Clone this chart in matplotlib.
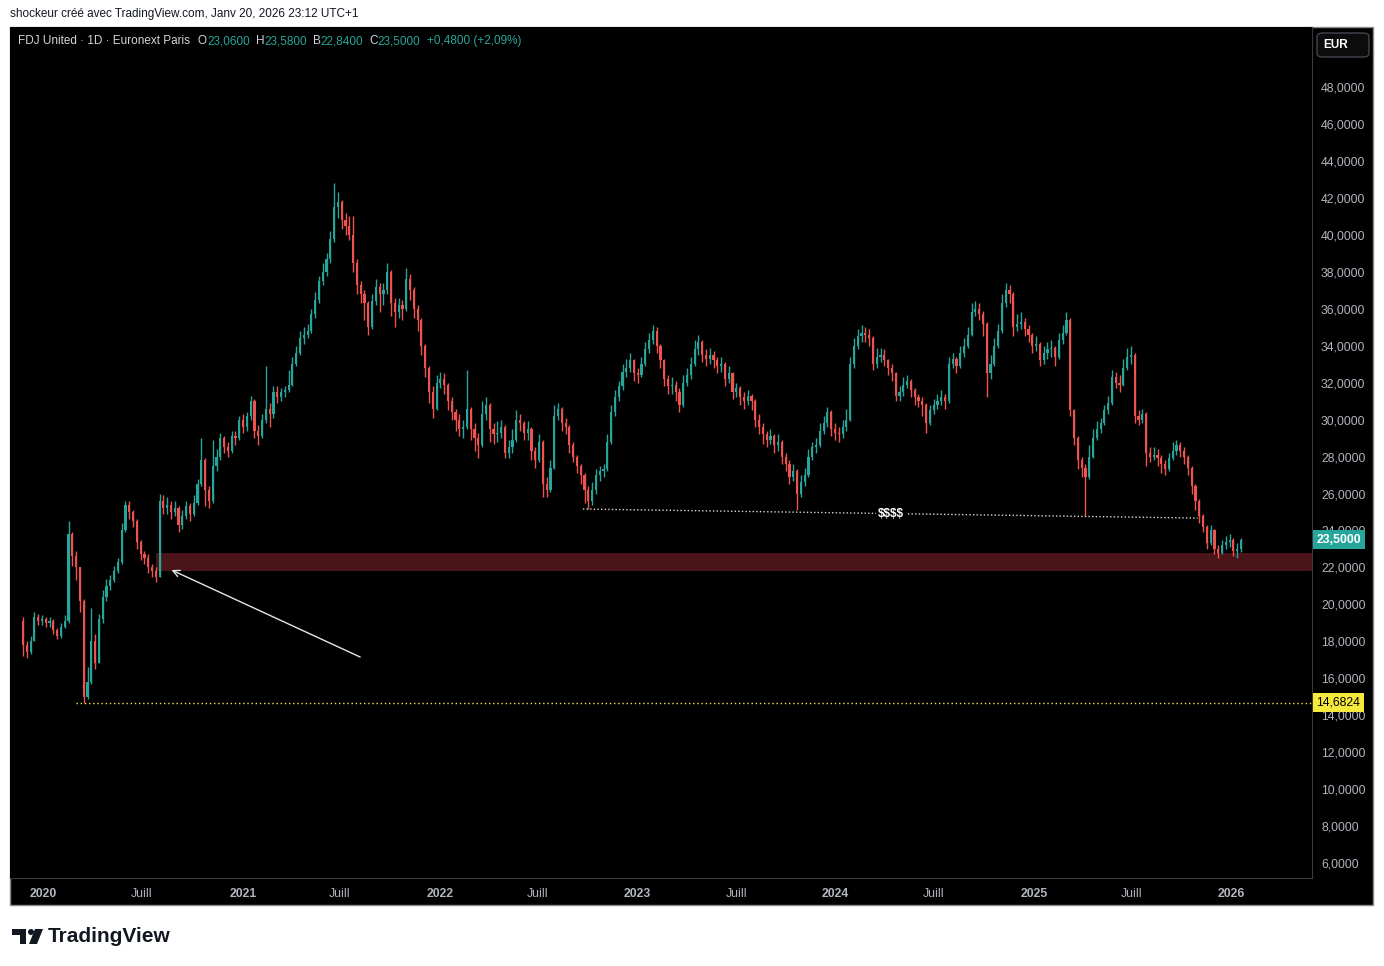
import numpy as np
import pandas as pd
import matplotlib
matplotlib.use('Agg')
import matplotlib.pyplot as plt
import matplotlib.dates as mdates
from matplotlib.patches import Rectangle, FancyBboxPatch, Polygon, Circle
from matplotlib.ticker import FixedLocator, FuncFormatter

plt.rcParams['font.family'] = ['Liberation Sans', 'DejaVu Sans']

W, H = 1384, 966
UP, DOWN = '#26a69a', '#ef5350'
TXT = '#d1d4dc'

# weekly candles (FDJ United, Euronext Paris)
first_week = '2019-11-25'
first_open = 19.1
closes = [
    17.8, 17.4, 18.0, 19.3, 19.1, 19.2, 19.0, 19.1, 18.6, 18.3,
    18.8, 19.1, 23.8, 22.6, 22.0, 20.2, 15.0, 15.8, 18.0, 16.8,
    19.2, 20.4, 21.0, 21.3, 21.8, 22.3, 24.0, 25.4, 25.0, 24.5,
    23.4, 22.7, 22.5, 22.0, 21.8, 21.5, 25.6, 25.2, 25.4, 25.0,
    25.2, 24.3, 24.8, 25.3, 24.9, 25.5, 26.5, 27.8, 26.2, 25.6,
    27.5, 28.0, 29.0, 28.5, 28.3, 29.1, 29.0, 30.0, 29.6, 30.2,
    31.0, 29.4, 29.1, 30.0, 30.6, 30.3, 31.5, 31.2, 31.5, 31.6,
    31.9, 33.0, 33.6, 34.4, 34.6, 34.8, 35.7, 36.5, 37.5, 38.0,
    38.7, 39.8, 41.5, 41.8, 40.8, 40.5, 40.0, 38.5, 37.3, 36.8,
    36.3, 35.0, 36.4, 37.2, 36.8, 37.0, 38.0, 36.3, 35.8, 36.2,
    36.0, 37.6, 37.0, 36.0, 35.4, 34.0, 32.8, 31.5, 30.6, 32.0,
    32.2, 31.9, 31.0, 30.4, 30.0, 29.5, 29.6, 30.6, 29.5, 29.0,
    28.6, 30.3, 30.8, 29.5, 29.2, 29.3, 29.6, 28.2, 28.5, 28.9,
    30.0, 29.8, 29.3, 29.5, 28.3, 27.8, 28.8, 26.5, 26.2, 27.4,
    30.2, 30.6, 29.8, 29.6, 28.6, 28.0, 27.5, 27.0, 26.2, 25.6,
    26.2, 27.0, 27.2, 27.3, 28.8, 30.4, 31.2, 31.8, 32.6, 32.8,
    33.2, 32.5, 32.4, 33.0, 33.8, 34.3, 34.8, 34.0, 33.2, 32.2,
    31.8, 31.9, 31.5, 30.8, 32.0, 32.4, 33.0, 33.8, 34.2, 33.5,
    33.3, 33.5, 33.2, 32.9, 33.0, 32.2, 32.5, 31.5, 31.7, 31.2,
    31.0, 31.3, 31.0, 30.0, 29.6, 29.2, 28.9, 29.1, 28.6, 28.8,
    28.0, 27.6, 26.9, 27.2, 26.0, 26.6, 27.0, 28.0, 28.5, 28.6,
    29.4, 29.8, 30.4, 29.5, 29.3, 29.2, 29.6, 30.0, 33.0, 34.0,
    34.5, 34.7, 34.6, 34.4, 33.0, 33.4, 33.5, 33.2, 32.8, 32.5,
    31.3, 31.5, 31.9, 32.1, 31.6, 31.2, 31.0, 30.8, 29.8, 30.5,
    30.8, 31.0, 31.2, 31.0, 33.0, 33.3, 32.9, 33.6, 34.0, 34.6,
    35.8, 36.0, 35.7, 35.2, 32.5, 33.0, 34.0, 34.8, 36.3, 37.0,
    36.8, 35.0, 35.2, 35.3, 34.9, 34.6, 34.0, 34.1, 33.2, 33.6,
    33.8, 33.9, 33.4, 34.3, 34.7, 35.4, 30.5, 29.0, 27.8, 27.4,
    26.9, 28.0, 29.0, 29.5, 29.8, 30.5, 30.9, 32.3, 32.0, 31.9,
    32.8, 33.4, 33.5, 30.2, 30.0, 30.3, 28.2, 28.0, 28.1, 27.9,
    27.6, 27.3, 27.9, 28.3, 28.6, 28.3, 28.0, 27.4, 26.4, 25.6,
    24.8, 24.2, 23.3, 24.0, 23.0, 22.8, 23.2, 23.4, 23.5, 22.9,
    23.0, 23.5,
]
highs = [
    19.3, 18.0, 18.3, 19.6, 19.5, 19.4, 19.3, 19.3, 19.2, 18.7,
    19.0, 19.4, 24.5, 23.9, 22.9, 22.0, 20.3, 16.6, 19.8, 18.4,
    19.5, 20.8, 21.4, 21.6, 22.1, 22.5, 24.4, 25.6, 25.6, 25.1,
    24.6, 23.5, 22.9, 22.7, 22.2, 22.0, 26.0, 25.9, 25.8, 25.6,
    25.6, 25.3, 25.1, 25.6, 25.5, 25.9, 26.8, 29.0, 27.9, 26.4,
    28.9, 28.4, 29.3, 29.1, 28.8, 29.4, 29.4, 30.2, 30.3, 30.4,
    31.3, 31.1, 29.7, 30.3, 32.9, 30.9, 31.8, 31.8, 31.7, 31.8,
    32.7, 33.4, 34.0, 34.8, 35.0, 35.2, 36.0, 36.9, 37.8, 38.5,
    39.0, 40.2, 42.8, 42.3, 41.9, 41.2, 41.0, 41.0, 38.7, 37.5,
    37.0, 36.4, 36.8, 37.6, 37.4, 37.4, 38.5, 38.1, 36.6, 36.6,
    36.5, 38.2, 37.9, 37.2, 36.2, 35.5, 34.1, 32.9, 31.8, 32.4,
    32.6, 32.5, 32.0, 31.2, 30.6, 30.3, 30.0, 32.7, 30.7, 29.8,
    29.3, 31.0, 31.2, 30.9, 29.8, 29.9, 30.0, 29.7, 28.9, 29.5,
    30.5, 30.3, 29.9, 29.9, 29.6, 28.5, 29.2, 28.9, 26.9, 27.8,
    30.8, 30.9, 30.7, 30.1, 29.7, 28.8, 28.1, 27.6, 27.1, 26.4,
    26.6, 27.3, 27.5, 27.6, 29.2, 30.8, 31.6, 32.1, 33.0, 33.3,
    33.6, 33.3, 32.8, 33.4, 34.2, 34.7, 35.1, 35.0, 34.1, 33.3,
    32.4, 32.3, 32.1, 31.7, 32.4, 32.8, 33.4, 34.3, 34.6, 34.3,
    33.8, 33.9, 33.7, 33.4, 33.4, 33.1, 32.9, 32.6, 32.0, 31.8,
    31.5, 31.6, 31.4, 31.1, 30.3, 29.8, 29.4, 29.5, 29.2, 29.2,
    28.9, 28.2, 27.8, 27.6, 27.3, 27.0, 27.4, 28.4, 28.8, 29.0,
    29.8, 30.2, 30.7, 30.5, 29.8, 29.6, 30.0, 30.6, 33.4, 34.4,
    34.9, 35.1, 35.0, 34.9, 34.5, 33.9, 33.9, 33.8, 33.3, 33.0,
    32.6, 31.8, 32.3, 32.4, 32.2, 31.7, 31.4, 31.2, 30.9, 30.8,
    31.1, 31.4, 31.6, 31.4, 33.4, 33.6, 33.4, 34.0, 34.4, 35.0,
    36.3, 36.4, 36.3, 35.9, 35.3, 33.5, 34.4, 35.2, 36.8, 37.4,
    37.3, 36.9, 35.7, 35.8, 35.5, 35.1, 34.7, 34.5, 34.2, 34.0,
    34.2, 34.3, 34.0, 34.7, 35.1, 35.8, 35.5, 30.6, 29.1, 28.0,
    27.6, 28.6, 29.5, 29.9, 30.1, 30.8, 31.3, 32.7, 32.6, 32.4,
    33.3, 33.9, 34.0, 33.6, 30.5, 30.6, 30.4, 28.5, 28.5, 28.4,
    28.1, 27.8, 28.2, 28.8, 28.9, 28.8, 28.5, 28.1, 27.5, 26.5,
    25.7, 24.9, 24.3, 24.3, 24.1, 23.2, 23.5, 23.7, 23.8, 23.6,
    23.3, 23.58,
]
lows = [
    17.2, 17.1, 17.3, 18.0, 18.9, 18.9, 18.8, 18.8, 18.4, 18.1,
    18.2, 18.7, 19.0, 22.1, 21.3, 19.6, 14.68, 14.9, 15.7, 16.5,
    16.8, 19.0, 20.2, 20.8, 21.2, 21.7, 22.2, 23.9, 24.6, 24.2,
    23.0, 22.4, 22.2, 21.7, 21.5, 21.2, 21.5, 24.9, 24.9, 24.6,
    24.8, 23.9, 24.1, 24.6, 24.5, 24.8, 25.4, 26.4, 25.3, 25.2,
    25.5, 27.2, 27.8, 28.2, 28.0, 28.2, 28.6, 28.9, 29.3, 29.4,
    30.0, 29.0, 28.6, 29.0, 29.8, 29.6, 30.1, 30.9, 31.0, 31.2,
    31.5, 31.8, 32.9, 33.5, 34.1, 34.4, 34.7, 35.5, 36.3, 37.3,
    37.8, 38.5, 39.6, 40.9, 40.3, 40.0, 39.7, 38.0, 36.8, 36.3,
    35.4, 34.6, 34.9, 36.2, 35.8, 36.2, 36.8, 35.6, 35.0, 35.5,
    35.4, 35.9, 36.5, 35.5, 34.8, 33.5, 32.3, 30.9, 30.1, 30.5,
    31.7, 31.4, 30.5, 30.0, 29.4, 29.1, 29.0, 29.5, 28.9, 28.3,
    27.9, 28.5, 30.0, 28.8, 28.7, 28.8, 29.0, 27.9, 27.9, 28.2,
    28.8, 29.4, 28.9, 28.9, 27.8, 27.4, 27.7, 25.8, 25.8, 26.1,
    27.3, 30.0, 29.4, 29.2, 28.2, 27.7, 27.1, 26.5, 25.5, 25.16,
    25.4, 26.0, 26.7, 26.9, 27.2, 28.7, 30.2, 31.0, 31.6, 32.3,
    32.6, 32.1, 32.0, 32.3, 32.9, 33.6, 34.1, 33.6, 32.8, 31.8,
    31.4, 31.4, 31.0, 30.4, 30.7, 31.8, 32.2, 32.9, 33.5, 33.1,
    32.9, 33.0, 32.8, 32.5, 32.6, 31.8, 32.0, 31.1, 31.2, 30.8,
    30.6, 30.8, 30.5, 29.6, 29.2, 28.7, 28.5, 28.7, 28.2, 28.3,
    27.6, 27.2, 26.5, 26.7, 25.1, 25.8, 26.4, 26.9, 27.8, 28.2,
    28.5, 29.2, 29.6, 29.1, 28.9, 28.8, 29.0, 29.4, 29.9, 32.8,
    33.8, 34.2, 34.2, 34.0, 32.7, 32.8, 33.1, 32.9, 32.4, 32.1,
    31.0, 31.0, 31.3, 31.7, 31.2, 30.8, 30.7, 30.2, 29.3, 29.7,
    30.3, 30.6, 30.8, 30.6, 30.9, 32.8, 32.5, 32.8, 33.4, 33.9,
    34.5, 35.6, 35.4, 34.5, 31.2, 32.2, 32.9, 33.9, 34.7, 36.1,
    36.3, 34.5, 34.8, 34.9, 34.5, 34.2, 33.6, 33.7, 32.9, 33.0,
    33.3, 33.4, 32.9, 33.3, 34.1, 34.6, 30.2, 28.6, 27.3, 26.9,
    24.8, 26.8, 27.9, 28.9, 29.3, 29.7, 30.3, 30.8, 31.7, 31.5,
    31.8, 32.7, 33.0, 29.8, 29.7, 29.8, 27.5, 27.7, 27.8, 27.5,
    27.1, 27.0, 27.2, 27.8, 28.1, 28.0, 27.6, 27.0, 26.0, 25.1,
    24.4, 23.9, 23.0, 23.2, 22.7, 22.5, 22.7, 23.0, 23.1, 22.6,
    22.5, 22.84,
]

# drawings on the chart
zone_start, zone_lo, zone_hi = '2020-07-27', 21.8, 22.78
support_x = ['2022-09-23', '2025-10-31']
support_y = [25.16, 24.67]
support_label_x = '2024-04-13'
covid_low_start, covid_low = '2020-03-02', 14.6824
arrow_tail = ('2021-08-08', 17.15)
arrow_head = ('2020-08-25', 21.86)
last_price = 23.5

x_ticks = ['2020-01-02', '2020-07-01', '2021-01-04', '2021-07-01', '2022-01-03',
           '2022-07-01', '2023-01-02', '2023-07-03', '2024-01-02', '2024-07-01',
           '2025-01-02', '2025-07-01', '2026-01-02']
x_labels = ['2020', 'Juill', '2021', 'Juill', '2022', 'Juill', '2023', 'Juill',
            '2024', 'Juill', '2025', 'Juill', '2026']
y_ticks = list(range(6, 50, 2))


def d(s):
    return mdates.date2num(pd.Timestamp(s))


def fmt_fr(v, _=None):
    return f'{v:.4f}'.replace('.', ',')


weeks = mdates.date2num(pd.date_range(first_week, periods=len(closes), freq='W-MON'))
closes = np.array(closes)
opens = np.concatenate([[first_open], closes[:-1]])
body_lo = np.minimum(opens, closes)
body = np.maximum(np.abs(closes - opens), 0.08)
colors = np.where(closes >= opens, UP, DOWN)

fig = plt.figure(figsize=(W / 100, H / 100), dpi=100, facecolor='white')

# black chart frame (behind the axes)
fig.patches.append(Rectangle((10 / W, 1 - 905 / H), 1363 / W, 878 / H,
                             transform=fig.transFigure, facecolor='black',
                             edgecolor='#8a8a8a', linewidth=1.0, zorder=-5))

ax = fig.add_axes([10 / W, 1 - 878 / H, 1302 / W, 851 / H])
ax.set_facecolor('black')
ax.set_xlim(d('2019-11-01'), d('2026-05-30'))
ax.set_ylim(5.19, 51.25)

ax.vlines(weeks, lows, highs, colors=colors, linewidth=1.0, zorder=3)
ax.bar(weeks, body, bottom=body_lo, width=4.0, color=colors, linewidth=0, zorder=3)

# demand zone
ax.add_patch(Rectangle((d(zone_start), zone_lo), d('2027-01-01') - d(zone_start),
                       zone_hi - zone_lo, facecolor='#4a1419', edgecolor='none', zorder=2))

# support line with label
ax.plot([d(s) for s in support_x], support_y, color='#d9d9d9', lw=1.0,
        linestyle=(0, (1, 1.6)), zorder=4)
lab_y = np.interp(d(support_label_x), [d(s) for s in support_x], support_y)
ax.text(d(support_label_x), lab_y, '$$$$', color='white', fontsize=8.5, fontweight='bold',
        ha='center', va='center', zorder=5, parse_math=False,
        bbox=dict(facecolor='black', edgecolor='none', pad=1.5))

# covid low line
ax.plot([d(covid_low_start), d('2027-01-01')], [covid_low, covid_low], color='#f0e442',
        lw=1.0, linestyle=(0, (1, 2)), zorder=4)

# arrow
ax.annotate('', xy=(d(arrow_head[0]), arrow_head[1]), xytext=(d(arrow_tail[0]), arrow_tail[1]),
            arrowprops=dict(arrowstyle='->', color='#e6e6e6', lw=1.0,
                            mutation_scale=12, shrinkA=0, shrinkB=0), zorder=5)

# axes styling
for side in ['top', 'left']:
    ax.spines[side].set_visible(False)
ax.spines['right'].set_color('#3a3a3a')
ax.spines['bottom'].set_color('#3a3a3a')
ax.yaxis.tick_right()
ax.yaxis.set_major_locator(FixedLocator(y_ticks))
ax.yaxis.set_major_formatter(FuncFormatter(fmt_fr))
ax.tick_params(axis='y', length=0, pad=6.5, labelsize=8.8, labelcolor='#b2b5be')
ax.xaxis.set_major_locator(FixedLocator([d(s) for s in x_ticks]))
ax.set_xticklabels(x_labels)
ax.tick_params(axis='x', length=0, pad=7, labelsize=8.8, labelcolor='#b2b5be')
for t in ax.get_xticklabels():
    if t.get_text() != 'Juill':
        t.set_fontweight('bold')

# price tags on the scale
trans = ax.get_yaxis_transform()
ax.text(1.0035, last_price, fmt_fr(last_price), transform=trans, ha='left', va='center',
        fontsize=8.8, fontweight='bold', color='white', zorder=10, clip_on=False,
        bbox=dict(boxstyle='square,pad=0.3', facecolor=UP, edgecolor='none'))
ax.text(1.0035, covid_low, fmt_fr(covid_low), transform=trans, ha='left', va='center',
        fontsize=8.8, color='black', zorder=10, clip_on=False,
        bbox=dict(boxstyle='square,pad=0.3', facecolor='#f5e93b', edgecolor='none'))

# EUR button
fig.patches.append(FancyBboxPatch((1317 / W, 1 - 57 / H), 52 / W, 24 / H,
                                  boxstyle='round,pad=0,rounding_size=0.004',
                                  transform=fig.transFigure, facecolor='#0c0c0c',
                                  edgecolor='#434651', linewidth=1.0, zorder=5))
fig.text(1336 / W, 1 - 44.5 / H, 'EUR', color='white', fontsize=8.5, fontweight='bold',
         ha='center', va='center', zorder=6)

# texts
fig.text(10 / W, 1 - 14 / H, 'shockeur créé avec TradingView.com, Janv 20, 2026 23:12 UTC+1',
         color='#131722', fontsize=8.5, va='center', ha='left')

r = fig.canvas.get_renderer()
pieces = [('FDJ United · 1D · Euronext Paris', TXT, 8), ('O', TXT, 0), ('23,0600', UP, 6),
          ('H', TXT, 0), ('23,5800', UP, 6), ('B', TXT, 0), ('22,8400', UP, 6),
          ('C', TXT, 0), ('23,5000', UP, 6), ('+0,4800 (+2,09%)', UP, 0)]
x = 18
for s, col, gap in pieces:
    t = fig.text(x / W, 1 - 41 / H, s, color=col, fontsize=8.5, va='center', ha='left')
    x += t.get_window_extent(renderer=r).width + gap

# TradingView logo
logo = dict(transform=None, facecolor='#131722', edgecolor='none')
fig.patches.append(Rectangle((12, H - 935), 14, 6, **logo))
fig.patches.append(Rectangle((20, H - 944), 6, 15, **logo))
fig.patches.append(Circle((31, H - 932), 3, **logo))
fig.patches.append(Polygon([(35, H - 929), (43, H - 929), (37, H - 944), (29, H - 944)], **logo))
fig.text(48 / W, 1 - 936 / H, 'TradingView', color='#131722', fontsize=15,
         fontweight='bold', va='center', ha='left')

fig.savefig('out.png', dpi=100, facecolor='white')
